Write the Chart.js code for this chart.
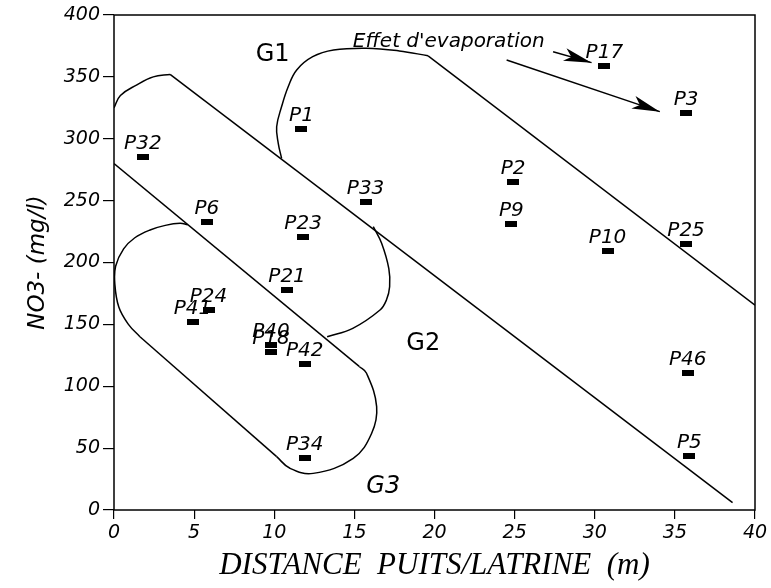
<!DOCTYPE html>
<html>
<head>
<meta charset="utf-8">
<script src="https://cdn.jsdelivr.net/npm/chart.js@4.4.0/dist/chart.umd.min.js"></script>
<style>
body{margin:0;background:#fff;}
canvas{display:block;}
</style>
</head>
<body>
<canvas id="nitrates" width="771" height="588"></canvas>
<script>
// wells: distance to latrine (m) and nitrate (mg/l)
var wellNames = ['P1','P32','P33','P6','P23','P21','P17','P3','P2','P9','P10','P25','P24','P41','P40','P18','P42','P34','P46','P5'];
var distance  = [11.7, 1.8, 15.7, 5.8, 11.8, 10.8, 30.6, 35.7, 24.9, 24.8, 30.8, 35.7, 5.9, 4.9, 9.8, 9.8, 11.9, 11.9, 35.8, 35.9];
var nitrate   = [308, 285, 249, 233, 221, 178, 359, 321, 265, 231, 209, 215, 162, 152, 133, 128, 118, 42, 111, 44];

var xTicks = [0,5,10,15,20,25,30,35,40];
var yTicks = [0,50,100,150,200,250,300,350,400];

// group envelopes (hand drawn outlines)
var g1LeftX = [0, 0.4, 1.4, 2.45, 3.5];
var g1LeftY = [325, 335, 343.4, 350, 352];
var line1X = [3.5, 38.6];
var line1Y = [352, 6];
var g1TopX = [10.46, 10.25, 10.15, 10.46, 10.87, 11.4, 12.4, 13.7, 15.76, 17.8, 19.6];
var g1TopY = [284.2, 296.3, 309.7, 326, 342, 355.6, 366.3, 371.7, 373.2, 371, 367];
var line3X = [19.6, 40];
var line3Y = [367, 165.5];
var g1LowX = [16.18, 16.7, 17.15, 17.2, 17.0, 16.6, 14.9, 13.3];
var g1LowY = [229, 215.5, 195, 180.4, 169.7, 161.6, 146.8, 140];
var line2X = [0, 15.3];
var line2Y = [280, 116];
var g3EndX = [15.3, 15.76, 16.39, 16.08, 14.93, 12.43, 10.98, 10.15];
var g3EndY = [116, 110.5, 83.5, 62, 41.8, 29.6, 33.7, 43.1];
var g3BaseX = [10.15, 1.62];
var g3BaseY = [43.1, 140];
var g3LeftX = [1.62, 0.9, 0.3, 0.05, 0.1, 0.6, 1.3, 2.25, 3.2, 4.12, 4.6];
var g3LeftY = [140, 150, 164, 183, 197, 211, 220, 226.3, 230, 231.7, 230.5];

// evaporation arrows
var arrow1X = [27.4, 29.8];
var arrow1Y = [370.3, 361.5];
var arrow2X = [24.5, 34.06];
var arrow2Y = [363.6, 321.9];

// annotations
var noteText = ['G1', 'G2', 'G3', "Effet d'evaporation"];
var noteX = [9.9, 19.3, 16.8, 14.9];
var noteY = [368, 134.7, 19, 374];

function pairs(xs, ys){
    var out = [];
    for (var i = 0; i < xs.length; i++){
        out.push({x: xs[i], y: ys[i]});
    }
    return out;
}

function outline(xs, ys, tension){
    return {
        data: pairs(xs, ys),
        showLine: true,
        borderColor: '#000',
        borderWidth: 1.5,
        pointRadius: 0,
        tension: tension,
        fill: false
    };
}

function arrow(xs, ys){
    var ds = outline(xs, ys, 0);
    ds.arrow = true;
    return ds;
}

// small black bar used as the point marker
var marker = document.createElement('canvas');
marker.width = 12;
marker.height = 6;
var mctx = marker.getContext('2d');
mctx.fillStyle = '#000';
mctx.fillRect(0, 0, 12, 6);

var tickFont = {family: '"DejaVu Sans"', size: 19, style: 'italic'};

var frame = {
    id: 'frame',
    afterDraw: function(chart){
        var a = chart.chartArea;
        var ctx = chart.ctx;
        ctx.save();
        ctx.strokeStyle = '#000';
        ctx.lineWidth = 1.5;
        ctx.strokeRect(a.left, a.top, a.right - a.left, a.bottom - a.top);
        ctx.restore();
    }
};

var arrowHeads = {
    id: 'arrowHeads',
    afterDatasetsDraw: function(chart){
        var ctx = chart.ctx;
        chart.data.datasets.forEach(function(ds, i){
            if (!ds.arrow) return;
            var pts = chart.getDatasetMeta(i).data;
            var tip = pts[pts.length - 1];
            var prev = pts[pts.length - 2];
            var ang = Math.atan2(tip.y - prev.y, tip.x - prev.x);
            ctx.save();
            ctx.translate(tip.x, tip.y);
            ctx.rotate(ang);
            ctx.fillStyle = '#000';
            ctx.beginPath();
            ctx.moveTo(0, 0);
            ctx.lineTo(-28, -7);
            ctx.lineTo(-21, 0);
            ctx.lineTo(-28, 6);
            ctx.closePath();
            ctx.fill();
            ctx.restore();
        });
    }
};

var labels = {
    id: 'labels',
    afterDatasetsDraw: function(chart){
        var ctx = chart.ctx;
        var xs = chart.scales.x;
        var ys = chart.scales.y;
        var meta = chart.getDatasetMeta(chart.data.datasets.length - 1);
        ctx.save();
        ctx.fillStyle = '#000';
        ctx.textAlign = 'center';
        ctx.textBaseline = 'alphabetic';
        ctx.font = 'italic 20px "DejaVu Sans"';
        meta.data.forEach(function(pt, i){
            ctx.fillText(wellNames[i], pt.x, pt.y - 8);
        });
        // group names and the evaporation note
        for (var k = 0; k < noteText.length; k++){
            var px = xs.getPixelForValue(noteX[k]);
            var py = ys.getPixelForValue(noteY[k]);
            if (k < 3){
                ctx.font = (k == 2 ? 'italic ' : '') + '24px "DejaVu Sans"';
                ctx.textAlign = 'center';
                ctx.textBaseline = 'middle';
            } else {
                ctx.font = 'italic 20px "DejaVu Sans"';
                ctx.textAlign = 'left';
                ctx.textBaseline = 'alphabetic';
            }
            ctx.fillText(noteText[k], px, py);
        }
        ctx.restore();
    }
};

var datasets = [
    outline(g1LeftX, g1LeftY, 0.4),
    outline(line1X, line1Y, 0),
    outline(g1TopX, g1TopY, 0.4),
    outline(line3X, line3Y, 0),
    outline(g1LowX, g1LowY, 0.4),
    outline(line2X, line2Y, 0),
    outline(g3EndX, g3EndY, 0.4),
    outline(g3BaseX, g3BaseY, 0),
    outline(g3LeftX, g3LeftY, 0.4),
    arrow(arrow1X, arrow1Y),
    arrow(arrow2X, arrow2Y),
    {
        data: pairs(distance, nitrate),
        pointStyle: marker,
        pointRadius: 6,
        showLine: false
    }
];

new Chart(document.getElementById('nitrates'), {
    type: 'scatter',
    data: {datasets: datasets},
    options: {
        responsive: false,
        animation: false,
        devicePixelRatio: 1,
        layout: {padding: {top: 15, right: 16, left: 0, bottom: 0}},
        plugins: {legend: {display: false}, tooltip: {enabled: false}},
        scales: {
            x: {
                type: 'linear',
                min: 0, max: 40,
                afterBuildTicks: function(scale){
                    scale.ticks = xTicks.map(function(v){ return {value: v}; });
                },
                afterFit: function(scale){ scale.height = 78; },
                grid: {drawOnChartArea: false, tickLength: 9, color: '#000', lineWidth: 1.2},
                border: {display: false},
                ticks: {color: '#000', font: tickFont, padding: 3, maxRotation: 0},
                title: {
                    display: true,
                    text: 'DISTANCE  PUITS/LATRINE  (m)',
                    color: '#000',
                    font: {family: '"Liberation Serif"', size: 31, style: 'italic'},
                    padding: {top: 0, bottom: 4}
                }
            },
            y: {
                type: 'linear',
                min: 0, max: 400,
                afterBuildTicks: function(scale){
                    scale.ticks = yTicks.map(function(v){ return {value: v}; });
                },
                afterFit: function(scale){ scale.width = 114; },
                grid: {drawOnChartArea: false, tickLength: 11, color: '#000', lineWidth: 1.2},
                border: {display: false},
                ticks: {color: '#000', font: tickFont, padding: 3},
                title: {
                    display: true,
                    text: 'NO3- (mg/l)',
                    color: '#000',
                    font: {family: '"DejaVu Sans"', size: 23, style: 'italic'},
                    padding: {top: 24, bottom: 0}
                }
            }
        }
    },
    plugins: [frame, arrowHeads, labels]
});
</script>
</body>
</html>
